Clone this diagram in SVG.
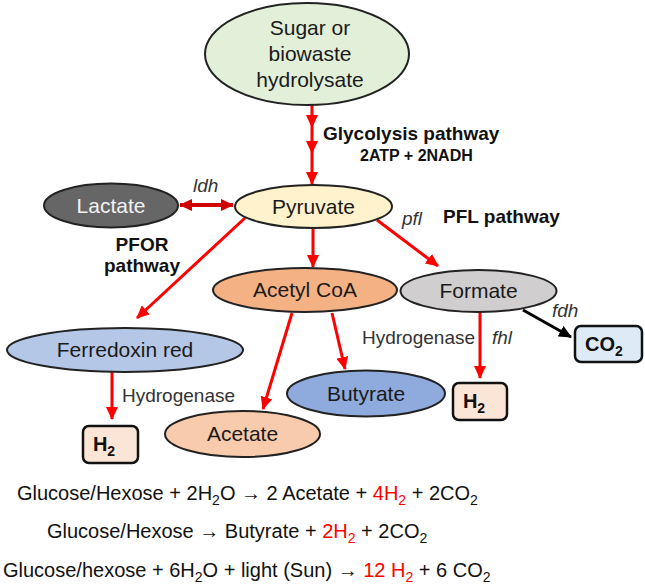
<svg xmlns="http://www.w3.org/2000/svg" width="645" height="585" viewBox="0 0 645 585">
<defs>
<marker id="ar" markerUnits="userSpaceOnUse" markerWidth="14" markerHeight="12" refX="12" refY="6" orient="auto"><path d="M0,0 L13,6 L0,12 z" fill="#ff0000"/></marker>
<marker id="ard" markerUnits="userSpaceOnUse" markerWidth="14" markerHeight="12" refX="12" refY="6" orient="auto-start-reverse"><path d="M0,0 L13,6 L0,12 z" fill="#d00000"/></marker>
<marker id="ak" markerUnits="userSpaceOnUse" markerWidth="14" markerHeight="12" refX="12" refY="6" orient="auto"><path d="M0,0 L13,6 L0,12 z" fill="#000"/></marker>
</defs>
<style>
.n{stroke:#222;stroke-width:2}
.t{font-family:"Liberation Sans",Arial,sans-serif;font-size:21px;fill:#1a1a1a;text-anchor:middle}
.b{font-family:"Liberation Sans",Arial,sans-serif;font-weight:bold;fill:#111}
.i{font-family:"Liberation Sans",Arial,sans-serif;font-style:italic;font-size:19px;fill:#333}
.h{font-family:"Liberation Sans",Arial,sans-serif;font-size:19px;fill:#333}
.box{stroke:#111;stroke-width:2.5}
.r{stroke:#ff0000;stroke-width:3;fill:none;marker-end:url(#ar)}
.eq{font-family:"Liberation Sans",Arial,sans-serif;font-size:20px;fill:#111}
.red{fill:#ff0000}
</style>
<g id="connectors">
<polyline class="r" points="312,103 312,127 312,153 312,184" style="marker-mid:url(#ar)"/>
<line x1="180" y1="205" x2="233" y2="205" stroke="#d00000" stroke-width="4" marker-start="url(#ard)" marker-end="url(#ard)"/>
<line class="r" x1="245" y1="218" x2="137" y2="318"/>
<line class="r" x1="313" y1="228" x2="313" y2="267"/>
<line class="r" x1="377" y1="220" x2="438" y2="266"/>
<line class="r" x1="292" y1="313" x2="263" y2="409"/>
<line class="r" x1="332" y1="313" x2="345" y2="369"/>
<line class="r" x1="480" y1="312" x2="480" y2="378"/>
<line class="r" x1="112" y1="372" x2="112" y2="419"/>
<line x1="523" y1="310" x2="571" y2="337" stroke="#000" stroke-width="3" marker-end="url(#ak)"/>
</g>
<g id="labels">
<text class="b" x="323" y="140" font-size="19">Glycolysis pathway</text>
<text class="b" x="360" y="161" font-size="16">2ATP + 2NADH</text>
<text class="i" x="193" y="192">ldh</text>
<text class="b" x="142" y="251" font-size="19" text-anchor="middle">PFOR</text>
<text class="b" x="142" y="272" font-size="19" text-anchor="middle">pathway</text>
<text class="i" x="402" y="225">pfl</text>
<text class="b" x="443" y="223" font-size="19">PFL pathway</text>
<text class="i" x="552" y="317">fdh</text>
<text class="h" x="362" y="344">Hydrogenase</text>
<text class="i" x="492" y="344">fhl</text>
<text class="h" x="122" y="402">Hydrogenase</text>
</g>
<g id="sugar">
<ellipse class="n" cx="307" cy="54" rx="102" ry="51" fill="#e2f0d9"/>
<text class="t" x="310" y="35">Sugar or</text>
<text class="t" x="310" y="61">biowaste</text>
<text class="t" x="310" y="87">hydrolysate</text>
</g>
<g id="pyruvate">
<ellipse class="n" cx="313.5" cy="206.5" rx="78.5" ry="21.5" fill="#fff2cc"/>
<text class="t" x="313.5" y="214">Pyruvate</text>
</g>
<g id="lactate">
<ellipse class="n" cx="111" cy="205.5" rx="67" ry="22" fill="#666666"/>
<text class="t" x="111" y="213" style="fill:#f2f2f2">Lactate</text>
</g>
<g id="acetylcoa">
<ellipse class="n" cx="305" cy="290" rx="92" ry="22" fill="#f4b183"/>
<text class="t" x="305" y="297">Acetyl  CoA</text>
</g>
<g id="formate">
<ellipse class="n" cx="478.5" cy="291" rx="78" ry="21" fill="#d0cece"/>
<text class="t" x="478.5" y="298">Formate</text>
</g>
<g id="ferredoxin">
<ellipse class="n" cx="125" cy="350" rx="118" ry="22" fill="#b4c7e7"/>
<text class="t" x="125" y="357">Ferredoxin red</text>
</g>
<g id="butyrate">
<ellipse class="n" cx="366" cy="393.5" rx="79" ry="23" fill="#8faadc"/>
<text class="t" x="366" y="401">Butyrate</text>
</g>
<g id="acetate">
<ellipse class="n" cx="242.5" cy="434" rx="77.5" ry="23" fill="#f8cbad"/>
<text class="t" x="242.5" y="441">Acetate</text>
</g>
<g id="h2-left">
<rect class="box" x="83" y="426" width="55" height="37" rx="6" fill="#fbe5d6"/>
<text class="b" x="104" y="451" font-size="20" text-anchor="middle">H<tspan font-size="14" dy="5">2</tspan></text>
</g>
<g id="h2-right">
<rect class="box" x="453" y="383" width="54" height="37" rx="6" fill="#fbe5d6"/>
<text class="b" x="474" y="408" font-size="20" text-anchor="middle">H<tspan font-size="14" dy="5">2</tspan></text>
</g>
<g id="co2">
<rect class="box" x="575" y="326" width="67" height="36" rx="6" fill="#deebf7"/>
<text class="b" x="604" y="351" font-size="20" text-anchor="middle">CO<tspan font-size="14" dy="5">2</tspan></text>
</g>
<g id="equations">
<text class="eq" x="17" y="500">Glucose/Hexose + 2H<tspan font-size="14" dy="5">2</tspan><tspan dy="-5">O → 2 Acetate + </tspan><tspan class="red">4H</tspan><tspan class="red" font-size="14" dy="5">2</tspan><tspan dy="-5"> + 2CO</tspan><tspan font-size="14" dy="5">2</tspan></text>
<text class="eq" x="47" y="538">Glucose/Hexose → Butyrate + <tspan class="red">2H</tspan><tspan class="red" font-size="14" dy="5">2</tspan><tspan dy="-5"> + 2CO</tspan><tspan font-size="14" dy="5">2</tspan></text>
<text class="eq" x="3" y="577">Glucose/hexose + 6H<tspan font-size="14" dy="5">2</tspan><tspan dy="-5">O + light (Sun) → </tspan><tspan class="red">12 H</tspan><tspan class="red" font-size="14" dy="5">2</tspan><tspan dy="-5"> + 6 CO</tspan><tspan font-size="14" dy="5">2</tspan></text>
</g>
</svg>
